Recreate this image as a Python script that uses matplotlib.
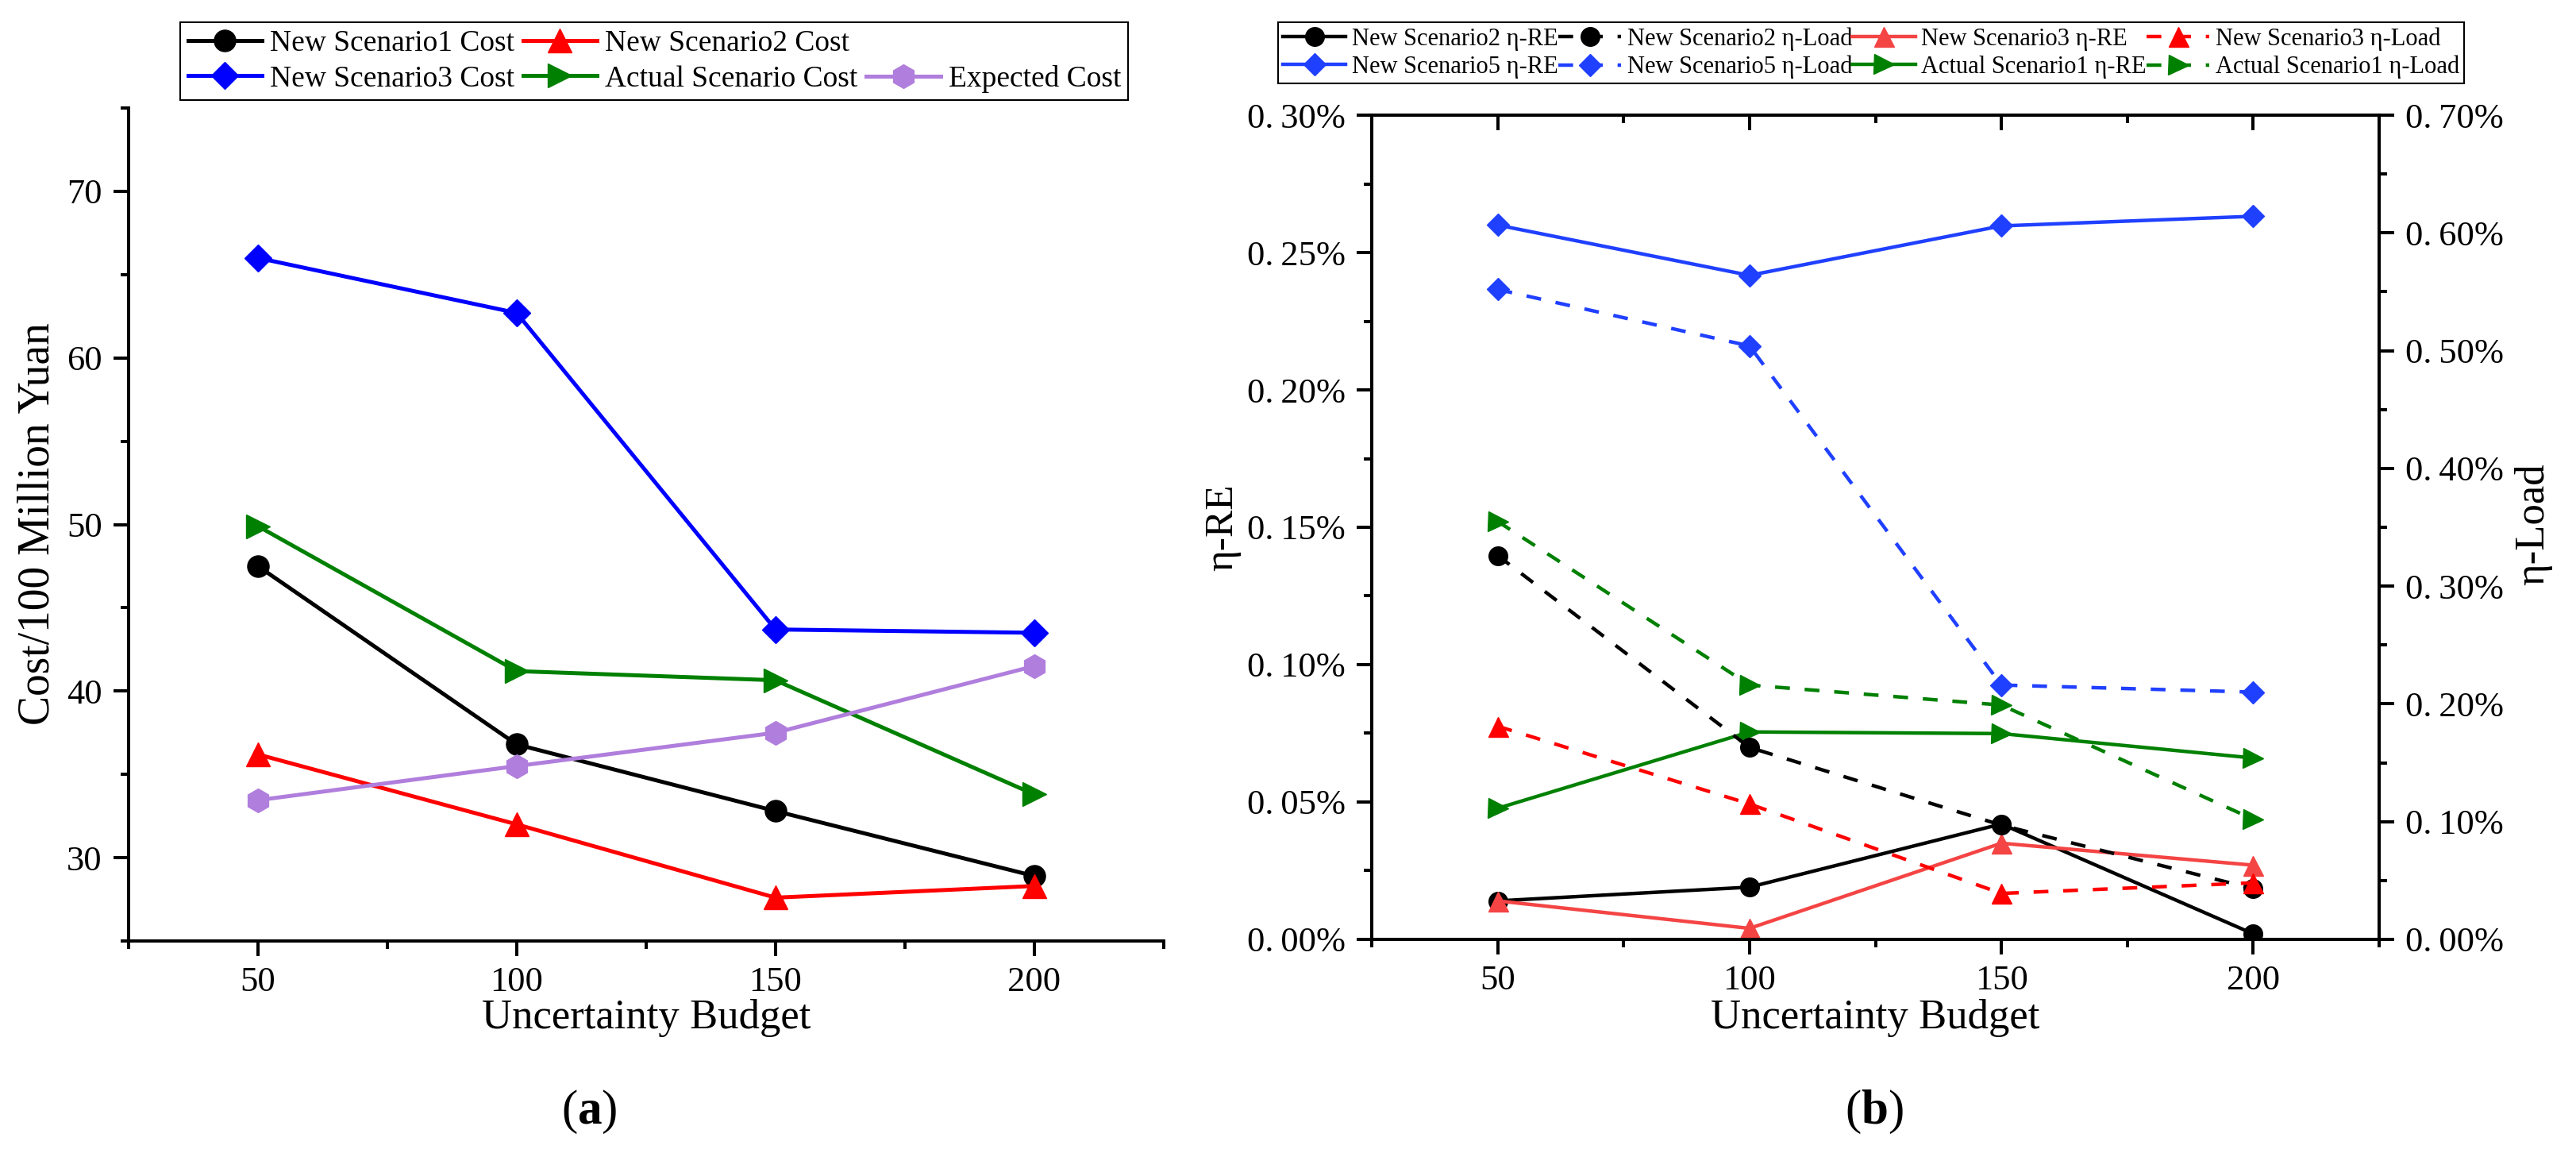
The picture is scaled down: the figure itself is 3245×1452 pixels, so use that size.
import matplotlib
matplotlib.use('Agg')
import matplotlib.pyplot as plt
from matplotlib.lines import Line2D
from matplotlib.ticker import MultipleLocator, FuncFormatter

plt.rcParams['font.family'] = ['Liberation Serif', 'DejaVu Serif']
plt.rcParams['mathtext.fontset'] = 'custom'
plt.rcParams['mathtext.rm'] = 'Liberation Serif'
plt.rcParams['mathtext.bf'] = 'Liberation Serif:bold'

budget = [50, 100, 150, 200]

# (a) cost in 100 million yuan
cost_new1 = [47.5, 36.8, 32.8, 28.9]
cost_new2 = [36.2, 32.0, 27.6, 28.3]
cost_new3 = [66.0, 62.7, 43.7, 43.5]
cost_actual = [49.9, 41.2, 40.65, 33.8]
cost_expected = [33.45, 35.5, 37.5, 41.5]

# (b) eta values in percent
re_new2 = [0.014, 0.019, 0.042, 0.002]
load_new2 = [0.326, 0.163, 0.097, 0.043]
re_new3 = [0.014, 0.004, 0.035, 0.027]
load_new3 = [0.181, 0.115, 0.039, 0.048]
re_new5 = [0.260, 0.2417, 0.2597, 0.2632]
load_new5 = [0.552, 0.504, 0.216, 0.210]
re_actual1 = [0.0477, 0.0755, 0.0749, 0.066]
load_actual1 = [0.355, 0.216, 0.199, 0.102]

SPINE_W = 2.9
TICK_FS = 32


def style_ticks(ax, axis='both'):
    ax.tick_params(axis=axis, which='major', length=14, width=SPINE_W,
                   labelsize=TICK_FS, direction='out')
    ax.tick_params(axis=axis, which='minor', length=7, width=SPINE_W,
                   direction='out')
    ax.tick_params(axis='x', which='major', pad=9)
    ax.tick_params(axis='y', which='major', pad=10)


fig = plt.figure(figsize=(32.45, 14.52), dpi=100)

# ---------------- (a) ----------------
ax = fig.add_axes([0.0499, 0.1839, 0.4018, 0.7224])
lw = 3.6
ax.plot(budget, cost_new1, color='black', lw=lw, marker='o', ms=19.5,
        label='New Scenario1 Cost')
ax.plot(budget, cost_new2, color='#FF0000', lw=lw, marker='^', ms=21,
        label='New Scenario2 Cost')
ax.plot(budget, cost_new3, color='#0000FF', lw=lw, marker='D', ms=17,
        label='New Scenario3 Cost')
ax.plot(budget, cost_actual, color='#008000', lw=lw, marker='>', ms=21,
        label='Actual Scenario Cost')
ax.plot(budget, cost_expected, color='#B07EDC', lw=lw, marker='h', ms=21.5,
        label='Expected Cost')

ax.set_xlim(25, 225)
ax.set_ylim(25, 75)
ax.set_xticks(budget)
ax.set_yticks([30, 40, 50, 60, 70])
ax.xaxis.set_minor_locator(MultipleLocator(25))
ax.yaxis.set_minor_locator(MultipleLocator(5))
ax.spines['top'].set_visible(False)
ax.spines['right'].set_visible(False)
for s in ['left', 'bottom']:
    ax.spines[s].set_linewidth(SPINE_W)
style_ticks(ax)

h, l = ax.get_legend_handles_labels()
blank = Line2D([], [], linestyle='none', marker='none')
order_h = [h[0], h[2], h[1], h[3], blank, h[4]]
order_l = [l[0], l[2], l[1], l[3], '', l[4]]
leg = fig.legend(order_h, order_l, ncol=3, loc='upper left',
                 bbox_to_anchor=(0.070, 0.9807), borderaxespad=0,
                 fontsize=27, handlelength=2.5, handletextpad=0.27,
                 columnspacing=0.27, labelspacing=0.27, borderpad=0.25,
                 frameon=True, fancybox=False, framealpha=1)
leg.get_frame().set_edgecolor('black')
leg.get_frame().set_linewidth(1.5)

fig.text(0.0145, 0.5455, 'Cost/100 Million Yuan', rotation=90,
         ha='center', va='center', fontsize=40)
fig.text(0.2509, 0.1081, 'Uncertainty Budget', ha='center', va='baseline',
         fontsize=38)
fig.text(0.2287, 0.0358, r'($\mathbf{a}$)', ha='center', va='center',
         fontsize=44)

# ---------------- (b) ----------------
axr = fig.add_axes([0.5325, 0.1853, 0.3911, 0.7148])
ax2 = axr.twinx()
lw2 = 3.2
dash = (0, (4.2, 4.2))
c_blue = '#2040FF'
c_lred = '#F44444'

axr.plot(budget, re_new2, color='black', lw=lw2, marker='o', ms=17,
         label='New Scenario2 η-RE')
axr.plot(budget, re_new3, color=c_lred, lw=lw2, marker='^', ms=18,
         label='New Scenario3 η-RE')
axr.plot(budget, re_new5, color=c_blue, lw=lw2, marker='D', ms=14.5,
         label='New Scenario5 η-RE')
axr.plot(budget, re_actual1, color='#008000', lw=lw2, marker='>', ms=18,
         label='Actual Scenario1 η-RE')

ax2.plot(budget, load_new2, color='black', lw=lw2, ls=dash, marker='o', ms=17,
         label='New Scenario2 η-Load')
ax2.plot(budget, load_new3, color='#FF0000', lw=lw2, ls=dash, marker='^', ms=18,
         label='New Scenario3 η-Load')
ax2.plot(budget, load_new5, color=c_blue, lw=lw2, ls=dash, marker='D', ms=14.5,
         label='New Scenario5 η-Load')
ax2.plot(budget, load_actual1, color='#008000', lw=lw2, ls=dash, marker='>',
         ms=18, label='Actual Scenario1 η-Load')

axr.set_xlim(25, 225)
axr.set_ylim(0, 0.30)
ax2.set_ylim(0, 0.70)
axr.set_xticks(budget)
axr.xaxis.set_minor_locator(MultipleLocator(25))
axr.yaxis.set_major_locator(MultipleLocator(0.05))
axr.yaxis.set_minor_locator(MultipleLocator(0.025))
ax2.yaxis.set_major_locator(MultipleLocator(0.10))
ax2.yaxis.set_minor_locator(MultipleLocator(0.05))
pct = FuncFormatter(lambda v, p: ('%.2f%%' % v).replace('.', '.\u2009'))
axr.yaxis.set_major_formatter(pct)
ax2.yaxis.set_major_formatter(pct)

for a in (axr, ax2):
    for s in a.spines.values():
        s.set_linewidth(SPINE_W)
style_ticks(axr)
style_ticks(ax2, axis='y')

top = axr.secondary_xaxis('top')
top.set_xticks(budget)
top.xaxis.set_minor_locator(MultipleLocator(25))
top.tick_params(which='major', direction='in', length=14, width=SPINE_W,
                labeltop=False)
top.tick_params(which='minor', direction='in', length=7, width=SPINE_W)
top.spines['top'].set_linewidth(SPINE_W)

h1, l1 = axr.get_legend_handles_labels()
h2, l2 = ax2.get_legend_handles_labels()
rh = [h1[0], h1[2], h2[0], h2[2], h1[1], h1[3], h2[1], h2[3]]
rl = [l1[0], l1[2], l2[0], l2[2], l1[1], l1[3], l2[1], l2[3]]
leg2 = fig.legend(rh, rl, ncol=4, loc='upper left',
                  bbox_to_anchor=(0.4961, 0.9807), borderaxespad=0,
                  fontsize=22, handlelength=2.6, handletextpad=0.25,
                  columnspacing=0.0, labelspacing=0.2, borderpad=0.2,
                  frameon=True, fancybox=False, framealpha=1)
leg2.get_frame().set_edgecolor('black')
leg2.get_frame().set_linewidth(1.5)

fig.text(0.4746, 0.5427, 'η-RE', rotation=90, ha='center', va='center',
         fontsize=37)
fig.text(0.9834, 0.5455, 'η-Load', rotation=90, ha='center', va='center',
         fontsize=38)
fig.text(0.7279, 0.1081, 'Uncertainty Budget', ha='center', va='baseline',
         fontsize=38)
fig.text(0.7276, 0.0358, r'($\mathbf{b}$)', ha='center', va='center',
         fontsize=44)

fig.savefig('out.png', dpi=100)
